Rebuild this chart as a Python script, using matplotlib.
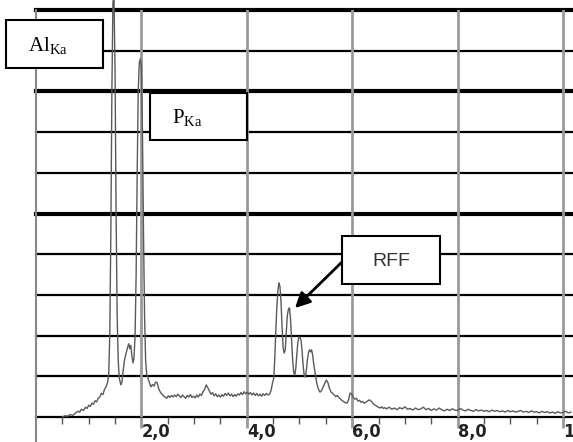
import matplotlib
matplotlib.use("Agg")
import matplotlib.pyplot as plt
from matplotlib.patches import Rectangle
from matplotlib import font_manager

plt.rcParams['mathtext.fontset'] = 'custom'
plt.rcParams['mathtext.rm'] = 'Liberation Serif'

# Spectrum (energy in keV, intensity in arbitrary units 0-100)
energy = [0.50, 0.55, 0.60, 0.65, 0.70, 0.75, 0.80, 0.83, 0.86, 0.90, 0.94, 0.97, 1.00, 1.03, 1.06,
          1.09, 1.12, 1.15, 1.18, 1.21, 1.24, 1.27, 1.30, 1.33, 1.36, 1.38, 1.40, 1.42, 1.44, 1.46,
          1.48, 1.50, 1.52, 1.54, 1.56, 1.58, 1.61, 1.63, 1.65, 1.68, 1.71, 1.74, 1.76, 1.78, 1.80,
          1.82, 1.84, 1.86, 1.88, 1.90, 1.92, 1.94, 1.96, 1.98, 2.00, 2.02, 2.04, 2.06, 2.08, 2.10,
          2.12, 2.15, 2.18, 2.21, 2.24, 2.27, 2.30, 2.33, 2.36, 2.39, 2.42, 2.45, 2.48, 2.51, 2.54,
          2.57, 2.60, 2.63, 2.66, 2.69, 2.72, 2.75, 2.78, 2.81, 2.84, 2.87, 2.90, 2.93, 2.96, 2.99,
          3.02, 3.05, 3.08, 3.11, 3.14, 3.17, 3.20, 3.23, 3.26, 3.29, 3.32, 3.35, 3.38, 3.41, 3.44,
          3.47, 3.50, 3.53, 3.56, 3.59, 3.62, 3.65, 3.68, 3.71, 3.74, 3.77, 3.80, 3.83, 3.86, 3.89,
          3.92, 3.95, 3.98, 4.01, 4.04, 4.07, 4.10, 4.13, 4.16, 4.19, 4.22, 4.25, 4.28, 4.31, 4.34,
          4.37, 4.40, 4.43, 4.46, 4.49, 4.51, 4.53, 4.55, 4.57, 4.59, 4.61, 4.63, 4.65, 4.67, 4.69,
          4.71, 4.73, 4.75, 4.77, 4.79, 4.81, 4.83, 4.85, 4.87, 4.89, 4.91, 4.93, 4.95, 4.97, 4.99,
          5.01, 5.03, 5.05, 5.07, 5.09, 5.11, 5.13, 5.15, 5.17, 5.19, 5.21, 5.23, 5.25, 5.27, 5.30,
          5.33, 5.36, 5.39, 5.42, 5.45, 5.48, 5.51, 5.54, 5.57, 5.60, 5.63, 5.66, 5.69, 5.72, 5.75,
          5.78, 5.81, 5.84, 5.87, 5.90, 5.93, 5.96, 5.99, 6.02, 6.05, 6.08, 6.11, 6.14, 6.17, 6.20,
          6.23, 6.26, 6.29, 6.32, 6.35, 6.38, 6.41, 6.44, 6.47, 6.50, 6.53, 6.56, 6.59, 6.62, 6.65,
          6.70, 6.75, 6.80, 6.85, 6.90, 6.95, 7.00, 7.05, 7.10, 7.15, 7.20, 7.25, 7.30, 7.35, 7.40,
          7.45, 7.50, 7.55, 7.60, 7.65, 7.70, 7.75, 7.80, 7.85, 7.90, 7.95, 8.00, 8.05, 8.10, 8.15,
          8.20, 8.25, 8.30, 8.35, 8.40, 8.45, 8.50, 8.55, 8.60, 8.65, 8.70, 8.75, 8.80, 8.85, 8.90,
          8.95, 9.00, 9.05, 9.10, 9.15, 9.20, 9.25, 9.30, 9.35, 9.40, 9.45, 9.50, 9.55, 9.60, 9.65,
          9.70, 9.75, 9.80, 9.85, 9.90, 9.95, 10.00, 10.05, 10.10, 10.15]

counts = [0.0, 0.3, 0.2, 0.6, 0.4, 1.0, 1.4, 1.2, 1.9, 1.6, 2.4, 2.1, 2.9, 2.6, 3.4,
          3.1, 4.0, 3.7, 4.6, 4.9, 5.8, 5.5, 6.8, 7.4, 8.6, 10.5, 20, 45, 80, 102,
          103, 85, 50, 25, 14, 9.5, 7.9, 8.5, 11, 14, 15.7, 17.2, 18.0, 16.8, 17.6,
          15.0, 13.3, 14.5, 20, 35, 60, 80, 87, 88, 86, 70, 45, 25, 14, 10.5,
          9.8, 8.5, 7.4, 8.0, 7.6, 8.6, 8.4, 6.9, 6.1, 5.6, 5.2, 4.9, 4.6, 5.2, 4.8,
          5.3, 4.9, 5.4, 5.0, 5.6, 5.2, 4.8, 5.4, 5.0, 4.6, 5.3, 4.9, 5.5, 4.8, 5.1,
          4.7, 5.4, 4.9, 5.6, 5.3, 6.2, 6.8, 7.9, 7.2, 6.4, 5.6, 6.0, 5.2, 5.7, 5.0,
          5.4, 4.9, 5.5, 5.1, 5.8, 5.3, 5.9, 5.2, 5.6, 5.0, 5.5, 5.1, 5.7, 5.4, 6.0,
          5.5, 6.2, 5.7, 6.1, 5.6, 6.0, 5.4, 5.9, 5.3, 5.8, 5.2, 5.6, 5.1, 5.7, 5.3,
          5.8, 5.4, 5.6, 6.5, 8.5, 9.5, 14, 21, 27, 31, 33, 32, 28, 22, 17,
          15.7, 16.5, 21, 25, 26.5, 26.8, 24, 19, 14, 11, 10.3, 12, 15.5, 18.5, 19.7,
          19.5, 18.8, 16, 12.5, 10.2, 9.8, 11.5, 14, 15.8, 16.5, 16.0, 16.5, 15.2, 13, 10.5,
          8.2, 6.8, 6.1, 6.5, 7.4, 8.3, 9.1, 8.4, 7.0, 6.1, 5.8, 5.4, 5.0, 5.3, 4.7,
          4.4, 4.0, 3.8, 3.5, 3.4, 4.2, 5.9, 5.6, 4.8, 4.4, 4.6, 3.9, 4.1, 3.6, 3.8,
          3.4, 3.6, 3.9, 4.2, 4.0, 3.6, 3.1, 2.9, 2.6, 2.4, 2.2, 2.5, 2.1, 2.3, 2.0,
          2.4, 1.9, 2.2, 1.8, 2.3, 2.0, 2.5, 1.9, 2.1, 1.7, 2.2, 1.8, 2.0, 2.4, 1.8,
          2.1, 1.6, 2.0, 1.7, 2.2, 1.8, 1.5, 1.9, 1.6, 2.0, 1.7, 1.6, 2.1, 1.7, 1.5,
          1.9, 1.6, 1.4, 1.8, 1.5, 1.7, 1.4, 1.6, 1.3, 1.7, 1.4, 1.6, 1.3, 1.5, 1.2,
          1.6, 1.3, 1.5, 1.2, 1.4, 1.6, 1.2, 1.4, 1.1, 1.5, 1.2, 1.3, 1.0, 1.4, 1.1,
          1.3, 1.0, 1.2, 0.9, 1.3, 1.0, 1.1, 1.4, 1.0, 1.2]

x_label_ticks = [2, 4, 6, 8, 10]
x_tick_labels = ["2,0", "4,0", "6,0", "8,0", "10,0"]
y_grid = [0, 10, 20, 30, 40, 50, 60, 70, 80, 90, 100]
thick_grid = [50, 80, 100]

W, H = 573, 442
fig = plt.figure(figsize=(W / 100, H / 100), dpi=100)
ax = fig.add_axes([36 / W, 25 / H, (W - 36) / W, 407 / H])
ax.set_xlim(0, 10.19)
ax.set_ylim(0, 100)

# horizontal grid
for v in y_grid:
    lw = 3.0 if v in thick_grid else 1.6
    ax.axhline(v, color='black', lw=lw, zorder=1, clip_on=False)
# vertical grid
for v in x_label_ticks:
    ax.axvline(v, color='#9a9a9a', lw=2.0, zorder=1)

ax.plot(energy, counts, color='#5a5a5a', lw=1.0, zorder=3, clip_on=False)

for s in ['top', 'right', 'bottom']:
    ax.spines[s].set_visible(False)
ax.spines['left'].set_color('#888888')
ax.spines['left'].set_linewidth(1.5)
ax.spines['left'].set_bounds(-7, 100)

narrow = font_manager.FontProperties(family='DejaVu Sans', stretch='condensed',
                                     weight='bold', size=13)
ax.set_yticks([])
ax.set_xticks(x_label_ticks)
ax.set_xticklabels(x_tick_labels, fontproperties=narrow, ha='left', color='#222222')
ax.set_xticks([0.5 * i for i in range(1, 21) if (0.5 * i) not in x_label_ticks], minor=True)
ax.tick_params(axis='x', which='major', length=8, width=2.0, color='#9a9a9a', pad=-4)
ax.tick_params(axis='x', which='minor', length=5, width=1.0, color='#555555')

def box(x0, y0, x1, y1):
    fig.add_artist(Rectangle((x0 / W, 1 - y1 / H), (x1 - x0) / W, (y1 - y0) / H,
                             transform=fig.transFigure, facecolor='white',
                             edgecolor='black', lw=1.5, zorder=10))

box(6, 20, 103, 68)
fig.text(48 / W, 1 - 46 / H, r'Al$_{\mathrm{Ka}}$', family='Liberation Serif', fontsize=15,
         ha='center', va='center', zorder=11)
box(150, 93, 247, 140)
fig.text(187 / W, 1 - 118 / H, r'P$_{\mathrm{Ka}}$', family='Liberation Serif', fontsize=15,
         ha='center', va='center', zorder=11)
box(342, 236, 440, 284)
fig.text(391 / W, 1 - 261 / H, 'RFF', family='Liberation Sans', fontsize=14, color='#333333',
         ha='center', va='center', zorder=11)

ax.annotate('', xy=(295, H - 308), xycoords='figure pixels',
            xytext=(342, H - 262), textcoords='figure pixels',
            arrowprops=dict(arrowstyle='-|>,head_length=0.9,head_width=0.45', color='black', lw=2.0,
                            shrinkA=0, shrinkB=0), zorder=12)

fig.savefig('out.png', dpi=100)
